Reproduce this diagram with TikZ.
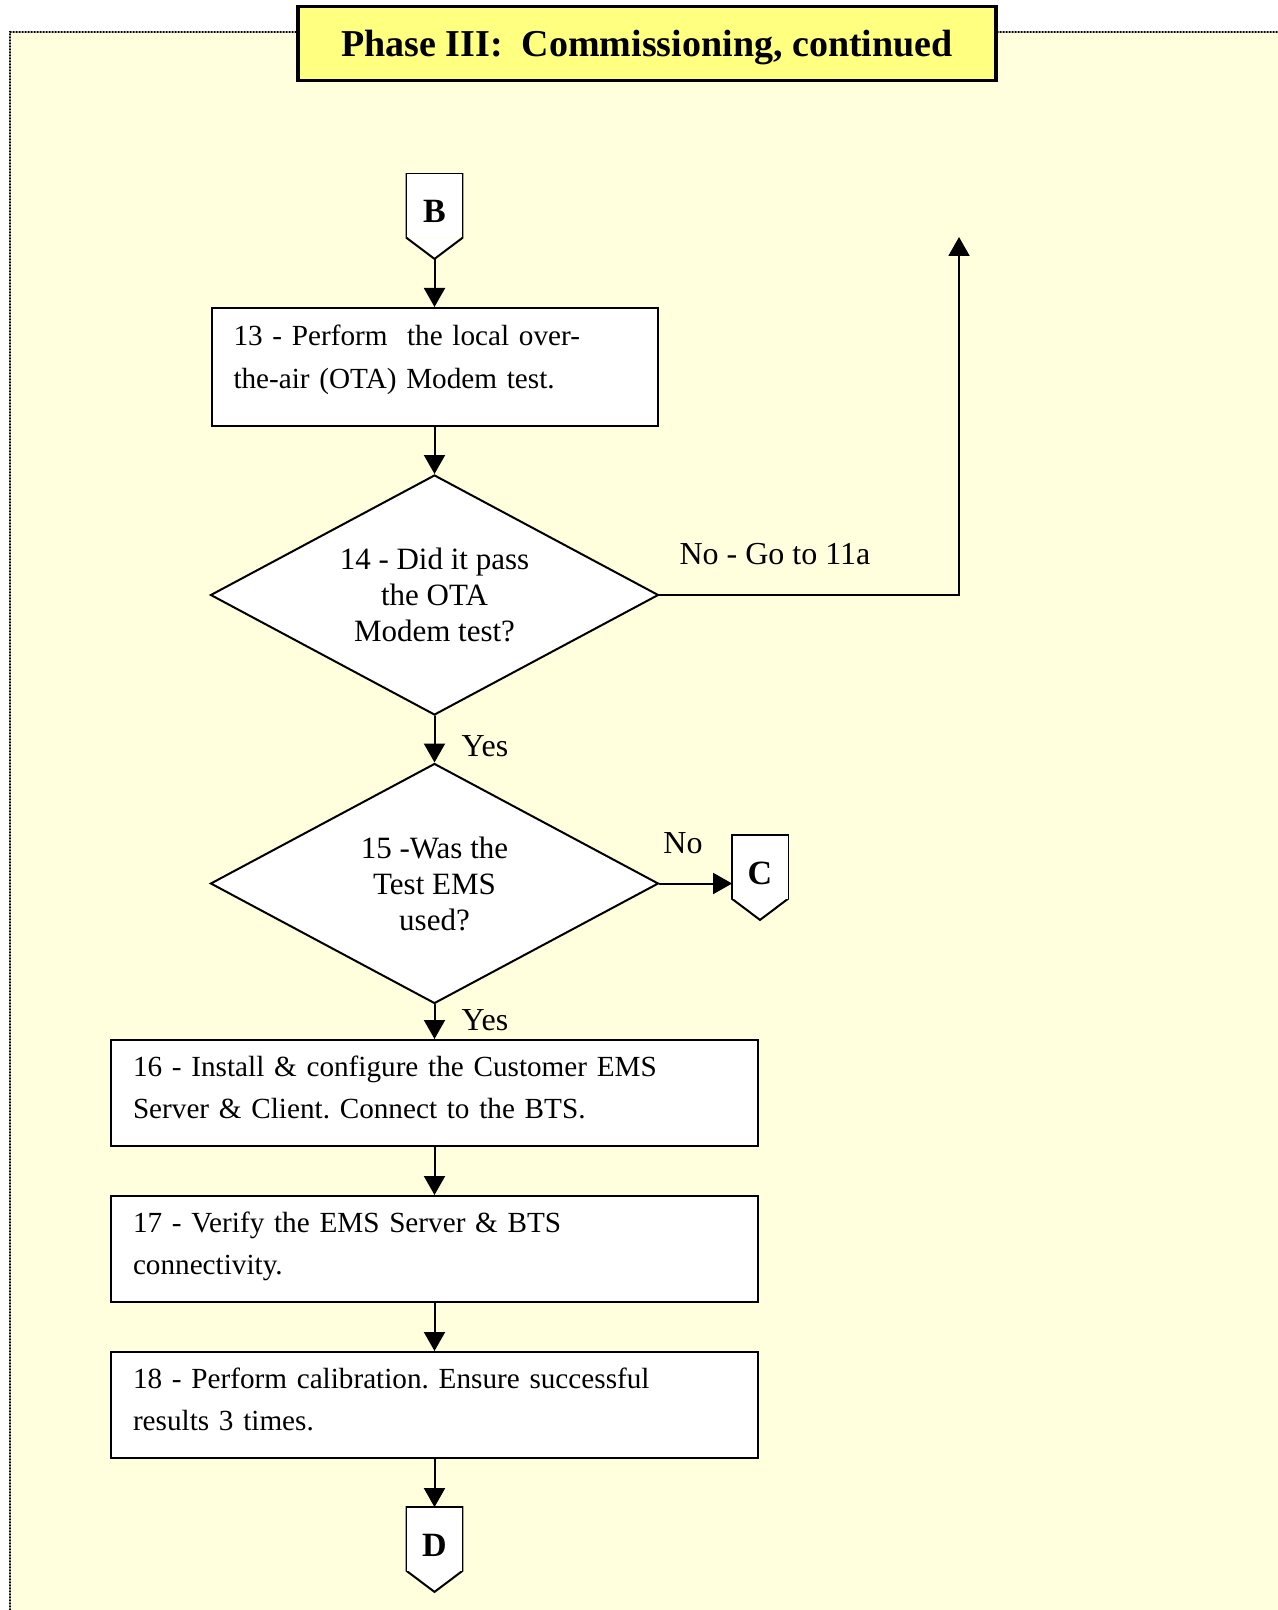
\documentclass[tikz,border=0pt]{standalone}
\usepackage{fontspec}
\setmainfont{Liberation Serif}
\usepackage{tikz}
\usetikzlibrary{arrows.meta, shapes.geometric}

\definecolor{panelyellow}{RGB}{255,255,221}
\definecolor{titleyellow}{RGB}{255,255,128}

\begin{document}
\frenchspacing
\begin{tikzpicture}
		[x=0.5pt,y=-0.5pt,line cap=round,
		%Styles
		flow line/.style={line width=1pt,-{Triangle[length=9.5pt,width=10.5pt]}},
		panel border/.style={line width=0.6pt,dash pattern=on 0.6pt off 0.9pt},
		title box/.style={draw,line width=1.6pt,fill=titleyellow,minimum width=349pt,minimum height=37pt,text depth=0pt,font=\fontsize{19}{23}\selectfont\bfseries},
		process box/.style={draw,line width=1pt,fill=white,align=left,inner xsep=11pt,inner ysep=0pt,text width=#1,text height=18pt,text depth=35pt,font=\fontsize{14.6}{21}\selectfont},
		decision/.style={diamond,draw,line width=1pt,fill=white,aspect=1.87,minimum width=224pt,minimum height=120pt,inner sep=0pt,align=center,font=\fontsize{15.5}{18}\selectfont},
		offpage/.style={rectangle,fill=white,minimum width=27.5pt,minimum height=31.5pt,inner sep=0pt,text height=17pt,text depth=0pt,font=\fontsize{17}{20}\selectfont\bfseries,
			append after command={\pgfextra{
				\fill[white] (\tikzlastnode.south west) -- ([yshift=-10.5pt]\tikzlastnode.south) -- (\tikzlastnode.south east) -- cycle;
				\draw[line width=1pt] (\tikzlastnode.north west) -- (\tikzlastnode.south west) -- ([yshift=-10.5pt]\tikzlastnode.south) -- (\tikzlastnode.south east) -- (\tikzlastnode.north east) -- cycle;
				\coordinate (\tikzlastnode-tip) at ([yshift=-10.5pt]\tikzlastnode.south);}}},
		answer text/.style={font=\fontsize{16}{19}\selectfont,inner sep=0pt}
		]
		
		\useasboundingbox (0,0) rectangle (1278,1610);
		
		%The panel
		\fill[panelyellow] (10,32) rectangle (1278,1610);
		\draw[panel border] (10,1610) -- (10,32) -- (1278,32);
		
		\node[title box] (title) at (647,43.5) {Phase III:\ \ Commissioning, continued};
		
		%The graphic
		\node[offpage] (B) at (434.5,206) {B};
		\node[process box=201pt,text height=19pt,text depth=40pt] (S13) at (434.5,367) {13 - Perform\ \ the local over-\\the-air (OTA) Modem test.};
		\node[decision] (S14) at (434.5,595) {14 - Did it pass\\the OTA\\Modem test?};
		\node[decision] (S15) at (434.5,883.5) {15 -Was the\\Test EMS\\used?};
		\node[offpage] (C) at (760,867) {C};
		\node[process box=301.5pt] (S16) at (434.5,1093) {16 - Install \& configure the Customer EMS\\Server \& Client. Connect to the BTS.};
		\node[process box=301.5pt] (S17) at (434.5,1249) {17 - Verify the EMS Server \& BTS\\connectivity.};
		\node[process box=301.5pt] (S18) at (434.5,1405) {18 - Perform calibration. Ensure successful\\results 3 times.};
		\node[offpage] (D) at (434.5,1539) {D};
		
		\coordinate (to11a) at (959,237);
		
		\node[answer text] (no14) at (775,554) {No - Go to 11a};
		\node[answer text] (yes14) at (485,746) {Yes};
		\node[answer text] (no15) at (683,843) {No};
		\node[answer text] (yes15) at (485,1020) {Yes};
		
		\draw[flow line] (B-tip) -- (S13);
		\draw[flow line] (S13) -- (S14);
		\draw[flow line] (S14) -- (S15);
		\draw[flow line] (S15) -- (S16);
		\draw[flow line] (S16) -- (S17);
		\draw[flow line] (S17) -- (S18);
		\draw[flow line] (S18) -- (D);
		\draw[flow line] (S14.east) -| (to11a);
		\draw[flow line] (S15.east) -- (S15.east -| C.west);
	\end{tikzpicture}
\end{document}
